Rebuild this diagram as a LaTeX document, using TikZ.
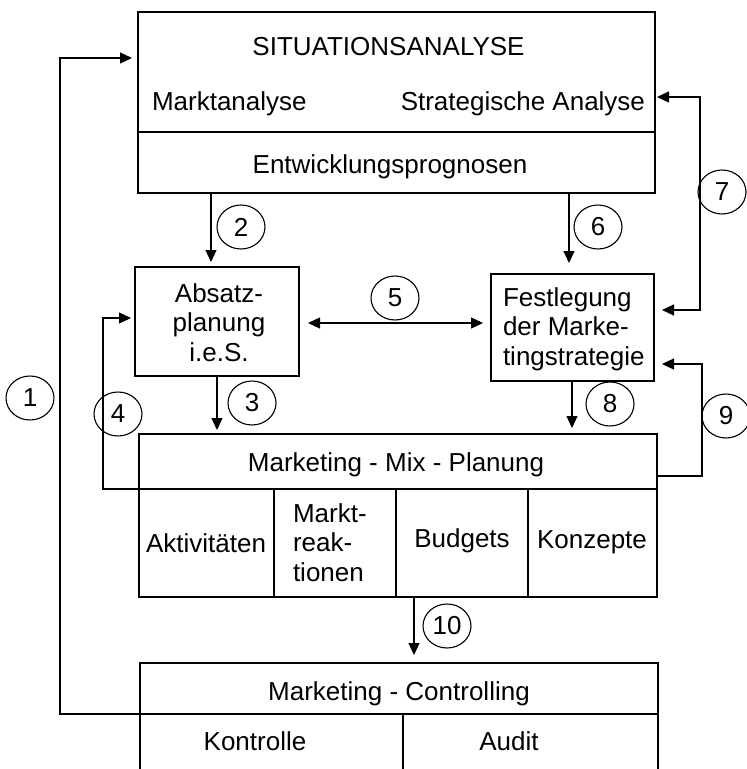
\documentclass[tikz,border=0pt]{standalone}
\usepackage{fontspec}
\setmainfont{Liberation Sans}
\usetikzlibrary{arrows.meta,shapes.geometric}
\begin{document}
\begin{tikzpicture}[x=1pt,y=-1pt,
  box/.style={draw,line width=1.2pt,rectangle,inner sep=0pt,outer sep=0pt},
  lbl/.style={inner sep=0pt,outer sep=0pt,font=\fontsize{26pt}{29.5pt}\selectfont},
  num/.style={draw,line width=1.1pt,ellipse,minimum width=48pt,minimum height=44pt,inner sep=0pt,font=\fontsize{26pt}{30pt}\selectfont},
  ln/.style={line width=1.2pt},
  arr/.style={ln,-{Triangle[length=12pt,width=11pt]}},
  darr/.style={ln,{Triangle[length=12pt,width=11pt]}-{Triangle[length=12pt,width=11pt]}}]
\fill[white] (0,0) rectangle (747,769);
\useasboundingbox (0,0) rectangle (747,769);

% boxes
\node[box,minimum width=517pt,minimum height=181pt] (sit) at (396.5,102.5) {};
\node[box,minimum width=164pt,minimum height=109pt] (abs) at (217,321.5) {};
\node[box,minimum width=163pt,minimum height=107pt] (fes) at (572.5,327.5) {};
\node[box,minimum width=518pt,minimum height=163pt] (mix) at (398,515.5) {};
\node[box,minimum width=518pt,minimum height=112pt] (ctl) at (399,719) {};

% dividers
\draw[ln] (sit.west |- 0,132) -- (sit.east |- 0,132);
\draw[ln] (mix.west |- 0,489) -- (mix.east |- 0,489);
\draw[ln] (274,489) -- (mix.south -| 274,0);
\draw[ln] (396,489) -- (mix.south -| 396,0);
\draw[ln] (528,489) -- (mix.south -| 528,0);
\draw[ln] (ctl.west |- 0,714) -- (ctl.east |- 0,714);
\draw[ln] (403,714) -- (ctl.south -| 403,0);

% texts
\node[lbl,anchor=base] (tsit) at (388.5,55) {SITUATIONSANALYSE};
\node[lbl,anchor=base west] (tma) at (152,110) {Marktanalyse};
\node[lbl,anchor=base east] (tsa) at (645,110) {Strategische Analyse};
\node[lbl,anchor=base] (tep) at (390,173) {Entwicklungsprognosen};
\node[lbl,anchor=north,align=center] (tabs) at (219,283.5) {Absatz-\\planung\\i.e.S.};
\node[lbl,anchor=north west,align=left] (tfes) at (503,287.5) {Festlegung\\der Marke-\\tingstrategie};
\node[lbl,anchor=base] (tmix) at (396,471) {Marketing - Mix - Planung};
\node[lbl,anchor=base] (takt) at (206,552) {Aktivitäten};
\node[lbl,anchor=north west,align=left] (tmr) at (293,503.5) {Markt-\\reak-\\tionen};
\node[lbl,anchor=base] (tbud) at (462,547) {Budgets};
\node[lbl,anchor=base] (tkon) at (592,548) {Konzepte};
\node[lbl,anchor=base] (tctl) at (399,700) {Marketing - Controlling};
\node[lbl,anchor=base] (tkc) at (255,750) {Kontrolle};
\node[lbl,anchor=base] (tau) at (509,750) {Audit};

% number circles
\node[num] (n1) at (30,398) {1};
\node[num] (n2) at (241,227) {2};
\node[num] (n3) at (252,403) {3};
\node[num] (n4) at (118,414) {4};
\node[num] (n5) at (395,298) {5};
\node[num] (n6) at (598,227) {6};
\node[num] (n7) at (722,192) {7};
\node[num] (n8) at (610,404) {8};
\node[num] (n9) at (726,416) {9};
\node[num] (n10) at (447,626) {10};

% connectors
\coordinate (c1b) at (60,714);
\coordinate (c1t) at (60,58);
\draw[arr,shorten >=6pt] (ctl.west |- c1b) -- (c1b) -- (c1t) -- (sit.west |- c1t);

\draw[arr,shorten >=5pt] (sit.south -| 211,0) -- (abs.north -| 211,0);
\draw[arr,shorten >=4pt] (abs.south -| 217,0) -- (mix.north -| 217,0);

\coordinate (c4b) at (103,489);
\coordinate (c4t) at (103,318);
\draw[arr,shorten >=4pt] (mix.west |- c4b) -- (c4b) -- (c4t) -- (abs.west |- c4t);

\draw[darr,shorten >=8pt,shorten <=9pt] (abs.east |- 0,323) -- (fes.west |- 0,323);

\draw[arr,shorten >=11pt] (sit.south -| 569,0) -- (fes.north -| 569,0);

\coordinate (c7t) at (700,97);
\coordinate (c7b) at (700,310);
\draw[darr,shorten <=2pt,shorten >=8pt] (sit.east |- c7t) -- (c7t) -- (c7b) -- (fes.east |- c7b);

\draw[arr,shorten >=6pt] (fes.south -| 572,0) -- (mix.north -| 572,0);

\coordinate (c9b) at (702,476);
\coordinate (c9t) at (702,364);
\draw[arr,shorten >=8pt] (mix.east |- c9b) -- (c9b) -- (c9t) -- (fes.east |- c9t);

\draw[arr,shorten >=8pt] (mix.south -| 414,0) -- (ctl.north -| 414,0);
\end{tikzpicture}
\end{document}
